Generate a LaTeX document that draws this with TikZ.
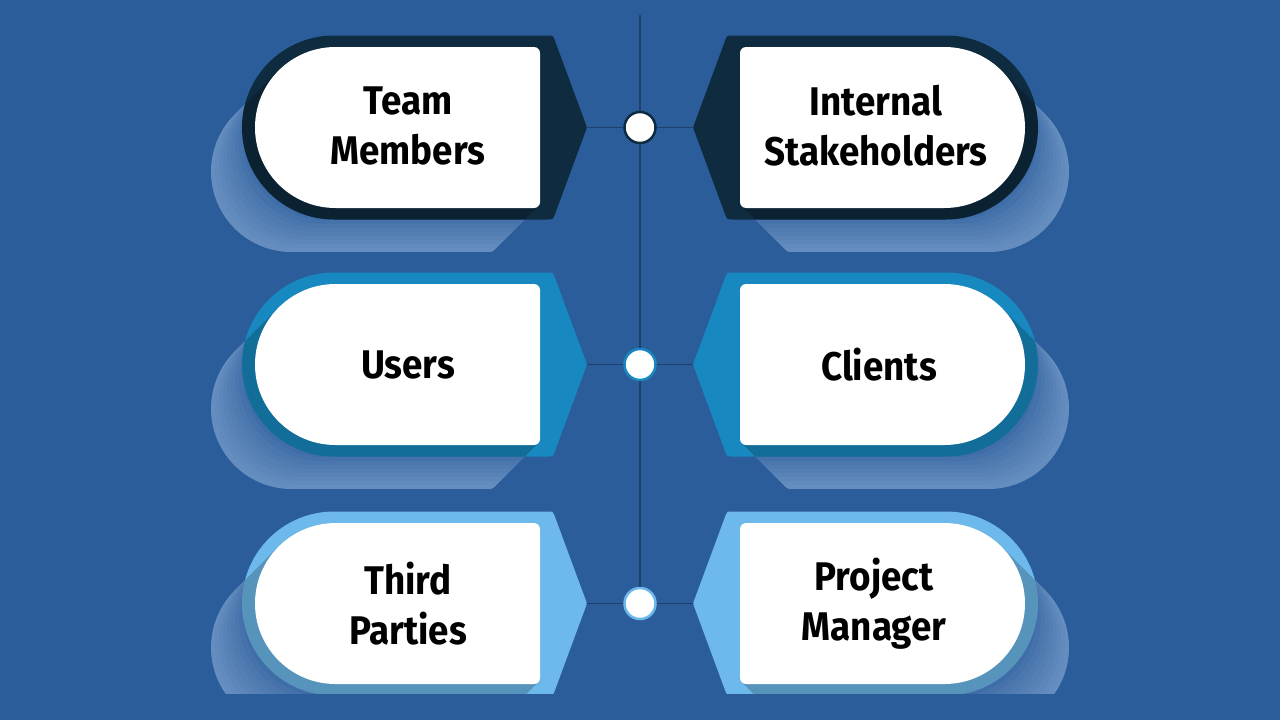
\documentclass[tikz,border=0pt]{standalone}
\usepackage{fontspec}
\newfontfamily\lab{Fira Sans}[FakeStretch=0.92]
\definecolor{bg}{HTML}{2C5D9B}
\definecolor{ringA}{HTML}{0E2B3F}
\definecolor{ringB}{HTML}{1789C0}
\definecolor{ringC}{HTML}{6DB9EC}
\definecolor{conn}{HTML}{1E416C}
\definecolor{shcol}{HTML}{A9C8EE}
\tikzset{
 ringp/.style={insert path={(334,-92) -- (547,-92) .. controls (553,-92) .. (555.08,-86.37) -- (585.61,-3.75) .. controls (587,0) .. (585.61,3.75) -- (555.08,86.37) .. controls (553,92) .. (547,92) -- (334,92) .. controls (283.19,92) and (242,50.81) .. (242,0) .. controls (242,-50.81) and (283.19,-92) .. (334,-92) -- cycle}},
 whitep/.style={insert path={(335.5,-80.5) -- (534,-80.5) .. controls (537.31,-80.5) and (540,-77.81) .. (540,-74.5) -- (540,74.5) .. controls (540,77.81) and (537.31,80.5) .. (534,80.5) -- (335.5,80.5) .. controls (291.04,80.5) and (255,44.46) .. (255,0) .. controls (255,-44.46) and (291.04,-80.5) .. (335.5,-80.5) -- cycle}},
 hullp/.style={insert path={(278.58,-56.92) .. controls (293.68,-72.02) and (314.15,-80.5) .. (335.5,-80.5) -- (534,-80.5) .. controls (537.31,-80.5) and (540,-77.81) .. (540,-74.5) -- (540,74.5) .. controls (540,76.09) and (539.37,77.62) .. (538.24,78.74) -- ({538.24-#1},{78.74+#1}) .. controls ({537.12-#1},{79.86+#1}) and ({535.59-#1},{80.5+#1}) .. ({534-#1},{80.5+#1}) -- ({335.5-#1},{80.5+#1}) .. controls ({291.04-#1},{80.5+#1}) and ({255-#1},{44.46+#1}) .. ({255-#1},{#1}) .. controls ({255-#1},{#1-21.35}) and ({263.48-#1},{#1-41.82}) .. ({278.58-#1},{#1-56.92}) -- cycle}},
 stxt/.style={font=\lab\bfseries\fontsize{40}{50}\selectfont, align=center, text=black},
 hubdot/.style={circle, fill=white, line width=2.5pt, minimum size=31pt, inner sep=0pt},
 connline/.style={draw=conn, line width=1.6pt},
 shlayer/.style={fill=shcol, opacity=0.06, even odd rule},
}
\newcommand\stakeshape[3]{%
 \begin{scope}[shift={(640,#1)}, xscale=#3, shift={(-640,0)}]
  \fill[shlayer, hullp=44, whitep];
  \foreach \t in {4,8,...,40} {\fill[shlayer, hullp=44, hullp=\t];}
  \fill[#2, ringp];
  \begin{scope}
   \clip[ringp];
   \fill[black, opacity=0.2, hullp=44];
  \end{scope}
  \fill[white, whitep];
 \end{scope}}
\begin{document}
\begin{tikzpicture}[x=1pt,y=-1pt]
\fill[bg] (0,0) rectangle (1280,720);
\useasboundingbox (0,0) rectangle (1280,720);
\begin{scope}
 \clip (0,0) rectangle (1280,693);
 \stakeshape{127.5}{ringA}{1}
 \stakeshape{127.5}{ringA}{-1}
 \stakeshape{364.5}{ringB}{1}
 \stakeshape{364.5}{ringB}{-1}
 \stakeshape{603.5}{ringC}{1}
 \stakeshape{603.5}{ringC}{-1}
\end{scope}
% hub dots
\node[hubdot, draw=ringA] (c1) at (640,127.5) {};
\node[hubdot, draw=ringB] (c2) at (640,364.5) {};
\node[hubdot, draw=ringC] (c3) at (640,603.5) {};
% arrow tips of the tags
\coordinate (vtop) at (640,15);
\coordinate (l1) at (587,127.5);
\coordinate (r1) at (693,127.5);
\coordinate (l2) at (587,364.5);
\coordinate (r2) at (693,364.5);
\coordinate (l3) at (587,603.5);
\coordinate (r3) at (693,603.5);
\draw[connline] (vtop) -- (c1);
\draw[connline] (c1) -- (c2);
\draw[connline] (c2) -- (c3);
\draw[connline] (l1) -- (c1) -- (r1);
\draw[connline] (l2) -- (c2) -- (r2);
\draw[connline] (l3) -- (c3) -- (r3);
% labels
\node[stxt] (t1) at (408,126) {Team\\Members};
\node[stxt] (t2) at (876,126) {Internal\\Stakeholders};
\node[stxt] (t3) at (408,364.5) {Users};
\node[stxt] (t4) at (879,364.5) {Clients};
\node[stxt] (t5) at (408,603.5) {Third\\Parties};
\node[stxt] (t6) at (874,603.5) {Project\\Manager};
\end{tikzpicture}
\end{document}
